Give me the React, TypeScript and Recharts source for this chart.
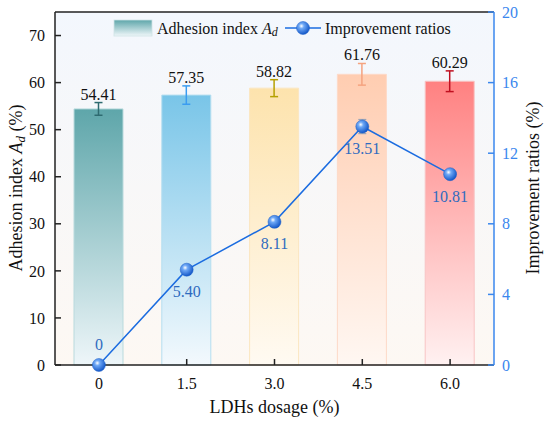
import React from "react";
import {
    ComposedChart,
    Bar,
    Line,
    XAxis,
    YAxis,
    CartesianGrid,
    ErrorBar,
    LabelList,
    ReferenceLine,
} from "recharts";

const dosage = ["0", "1.5", "3.0", "4.5", "6.0"];
const adhesion = [54.41, 57.35, 58.82, 61.76, 60.29];
const adhesionErr = [1.35, 1.95, 1.8, 2.3, 2.2];
const ratio = [0, 5.4, 8.11, 13.51, 10.81];
const ratioErr = [0, 0, 0, 0.4, 0];
const ratioLabels = ["0", "5.40", "8.11", "13.51", "10.81"];
const leftTicks = [0, 10, 20, 30, 40, 50, 60, 70];
const rightTicks = [0, 4, 8, 12, 16, 20];

// top colour, bottom colour, edge, error bar
const barColors = [
    {top: "#5ea6aa", bottom: "#eef6f9", edge: "#b9dadd", err: "#2e6b70"},
    {top: "#79c5e8", bottom: "#f3f9fd", edge: "#b5def0", err: "#3b9cf0"},
    {top: "#fde3ad", bottom: "#fffaf2", edge: "#fbe6c0", err: "#b5a000"},
    {top: "#ffcdb1", bottom: "#fff7f2", edge: "#fdd9c8", err: "#f5a37f"},
    {top: "#ff8181", bottom: "#fff1f1", edge: "#f8c4c4", err: "#c01020"},
];

const FONT = '"Liberation Serif", "Times New Roman", serif';
const BLUE_AXIS = "#3a87ee";
const BLUE_LINE = "#1b6ce0";
const BLUE_TEXT = "#2f6bbf";

const rows = dosage.map((d, i) => {
    const row: any = {dosage: d, ratio: ratio[i]};
    if (ratioErr[i]) row.ratioErr = ratioErr[i];
    row[`b${i}`] = adhesion[i];
    row[`e${i}`] = adhesionErr[i];
    return row;
});

const SphereDot = (props: any) => {
    const {cx, cy} = props;
    if (cx == null || cy == null) return null;
    return <circle cx={cx} cy={cy} r={6.5} fill="url(#sphere)" stroke="#1a5fc8" strokeWidth={0.5}/>;
};

// value label sits just above the error bar cap
const barLabel = (i: number) => (props: any) => {
    const {x, y, width, height} = props;
    if (!height || height <= 0) return null;
    const pxPerUnit = height / adhesion[i];
    const top = y - adhesionErr[i] * pxPerUnit - 3;
    return (
        <text x={x + width / 2} y={top} textAnchor="middle" fontSize={16} fill="#111">
            {adhesion[i].toFixed(2)}
        </text>
    );
};

const lineLabel = (props: any) => {
    const {x, y, index} = props;
    const dy = index === 0 ? -21 : 22;
    return (
        <text x={x} y={y + dy} textAnchor="middle" dominantBaseline="central" fontSize={16} fill={BLUE_TEXT}>
            {ratioLabels[index]}
        </text>
    );
};

export default function App() {
    return (
        <div style={{position: "absolute", left: 0, top: 0, width: 550, height: 423, background: "#fff"}}>
            <style>{`svg text { font-family: ${FONT}; }`}</style>
            <ComposedChart width={550} height={423} data={rows}
                           margin={{top: 12, right: 0, bottom: 0, left: 0}}>
                <defs>
                    <linearGradient id="bg" x1="0" y1="0" x2="0" y2="1">
                        <stop offset="0%" stopColor="#f3f7fd"/>
                        <stop offset="100%" stopColor="#fdf8f3"/>
                    </linearGradient>
                    {barColors.map((c, i) => (
                        <linearGradient key={i} id={`g${i}`} x1="0" y1="0" x2="0" y2="1">
                            <stop offset="0%" stopColor={c.top}/>
                            <stop offset="100%" stopColor={c.bottom}/>
                        </linearGradient>
                    ))}
                    <radialGradient id="sphere" cx="38%" cy="35%" r="65%">
                        <stop offset="0%" stopColor="#ffffff"/>
                        <stop offset="30%" stopColor="#6ea8f6"/>
                        <stop offset="100%" stopColor="#1558c8"/>
                    </radialGradient>
                </defs>
                <CartesianGrid horizontal={false} vertical={false} stroke="none" fill="url(#bg)"/>
                <XAxis dataKey="dosage" interval={0} height={58}
                       stroke="#222" strokeWidth={1.5} tickSize={-6} tickMargin={19}
                       tick={{fill: "#111", fontSize: 16}}
                       label={{
                           content: () => (
                               <text x={274.5} y={407} textAnchor="middle" dominantBaseline="central"
                                     fontSize={18} fill="#111">LDHs dosage (%)</text>
                           ),
                       }}/>
                <YAxis yAxisId="left" domain={[0, 75]} ticks={leftTicks} width={55}
                       stroke="#222" strokeWidth={1.5} tickSize={-6} tickMargin={16}
                       tick={{fill: "#111", fontSize: 16}}
                       label={{
                           content: () => (
                               <text x={16} y={188} transform="rotate(-90 16 188)" textAnchor="middle"
                                     dominantBaseline="central" fontSize={18} fill="#111">
                                   Adhesion index <tspan fontStyle="italic">A</tspan>
                                   <tspan dy={4} fontSize={13} fontStyle="italic">d</tspan>
                                   <tspan dy={-4}> (%)</tspan>
                               </text>
                           ),
                       }}/>
                <YAxis yAxisId="right" orientation="right" domain={[0, 20]} ticks={rightTicks} width={56}
                       stroke={BLUE_AXIS} strokeWidth={1.5} tickSize={-6} tickMargin={14}
                       tick={{fill: BLUE_AXIS, fontSize: 16}}
                       label={{
                           content: () => (
                               <text x={533} y={188} transform="rotate(-90 533 188)" textAnchor="middle"
                                     dominantBaseline="central" fontSize={18} fill="#111">
                                   Improvement ratios (%)
                               </text>
                           ),
                       }}/>
                <ReferenceLine yAxisId="left" y={75} stroke="#222" strokeWidth={1.5}/>
                {barColors.map((c, i) => (
                    <Bar key={i} yAxisId="left" dataKey={`b${i}`} stackId="a" barSize={49}
                         fill={`url(#g${i})`} stroke={c.edge} strokeWidth={1} isAnimationActive={false}>
                        <ErrorBar dataKey={`e${i}`} width={4} stroke={c.err} strokeWidth={1.5}/>
                        <LabelList dataKey={`b${i}`} content={barLabel(i)}/>
                    </Bar>
                ))}
                <Line yAxisId="right" dataKey="ratio" stroke={BLUE_LINE} strokeWidth={1.5}
                      dot={<SphereDot/>} activeDot={false} isAnimationActive={false}>
                    <ErrorBar dataKey="ratioErr" width={4} stroke="#9aa5b8" strokeWidth={1.2}/>
                    <LabelList dataKey="ratio" content={lineLabel}/>
                </Line>
            </ComposedChart>
            <svg width={550} height={50} style={{position: "absolute", left: 0, top: 0, pointerEvents: "none"}}>
                <defs>
                    <linearGradient id="legSwatch" x1="0" y1="0" x2="0" y2="1">
                        <stop offset="0%" stopColor={barColors[0].top}/>
                        <stop offset="100%" stopColor={barColors[0].bottom}/>
                    </linearGradient>
                    <radialGradient id="legSphere" cx="38%" cy="35%" r="65%">
                        <stop offset="0%" stopColor="#ffffff"/>
                        <stop offset="30%" stopColor="#6ea8f6"/>
                        <stop offset="100%" stopColor="#1558c8"/>
                    </radialGradient>
                </defs>
                <rect x={114} y={20} width={38} height={16} fill="url(#legSwatch)" stroke="#cfe4e6" strokeWidth={0.8}/>
                <text x={157} y={28} dominantBaseline="central" fontSize={16} fill="#111">
                    Adhesion index <tspan fontStyle="italic">A</tspan>
                    <tspan dy={4} fontSize={12} fontStyle="italic">d</tspan>
                </text>
                <line x1={285} y1={28} x2={321} y2={28} stroke={BLUE_LINE} strokeWidth={1.5}/>
                <circle cx={303} cy={28} r={6.5} fill="url(#legSphere)" stroke="#1a5fc8" strokeWidth={0.5}/>
                <text x={325} y={28} dominantBaseline="central" fontSize={16} fill="#111">
                    Improvement ratios
                </text>
            </svg>
        </div>
    );
}
